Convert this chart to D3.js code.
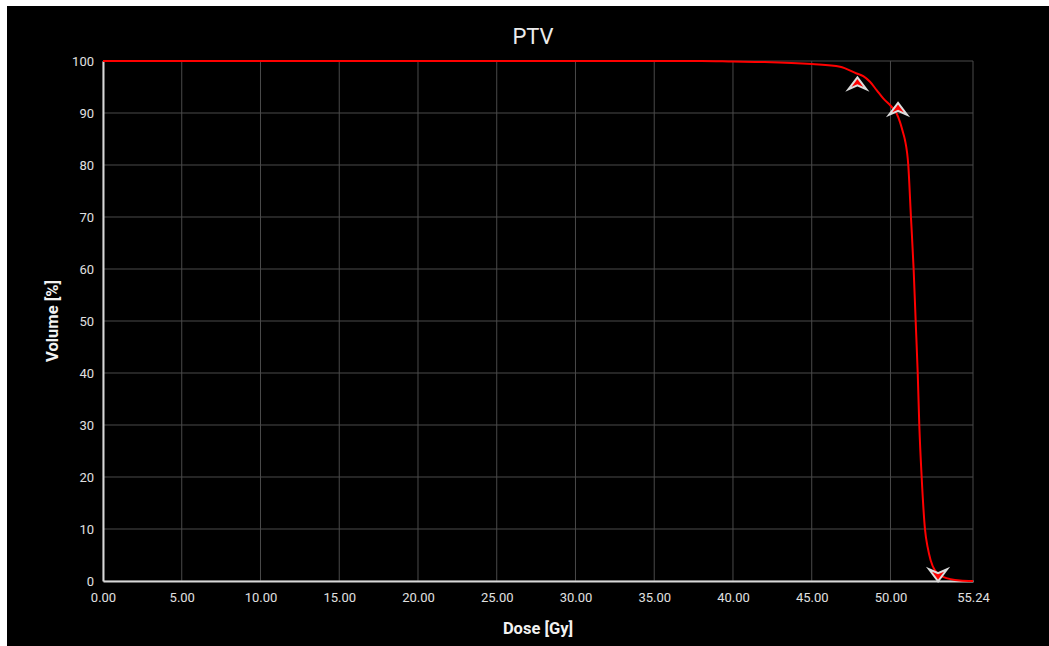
<!DOCTYPE html>
<html>
<head>
<meta charset="utf-8">
<script src="https://cdn.jsdelivr.net/npm/d3@7"></script>
<style>
	html, body { margin: 0; padding: 0; background: #fff; }
	svg { display: block; }
</style>
</head>
<body>
<svg width="1049" height="646"></svg>
<script>
var doses = [0, 38, 40, 42, 45, 46.8, 47.85, 48.27, 48.7, 49.12, 49.54, 50.07, 50.39, 50.6, 50.81, 50.92, 51.13, 51.3, 51.47, 51.6, 51.73, 51.83, 51.98, 52.19, 52.36, 52.55, 52.83, 53.33, 54.41, 55.24];
var volumes = [100, 100, 99.9, 99.8, 99.4, 98.9, 97.6, 97.1, 96.0, 94.4, 92.8, 91.2, 89.9, 88.3, 86.1, 84.8, 80, 70, 60, 50, 40, 30, 20, 10, 6.5, 4, 2, 0.8, 0.1, 0];

var xTicks = [0, 5, 10, 15, 20, 25, 30, 35, 40, 45, 50, 55.24];
var yTicks = [0, 10, 20, 30, 40, 50, 60, 70, 80, 90, 100];

// constraint markers: dose, volume, direction
var markerDoses = [47.9, 50.48, 53.02];
var markerVolumes = [95.5, 90.6, 1.3];
var markerDirs = ["up", "up", "down"];

var svg = d3.select("svg");

var margin = {left: 103, right: 76, top: 61, bottom: 65},
	width = 1049,
	height = 646;

svg.append("rect")
	.attr("x", 7)
	.attr("y", 6)
	.attr("width", width - 7)
	.attr("height", height - 6)
	.attr("fill", "#000");

var x = d3.scaleLinear()
	.domain([0, 55.24])
	.range([margin.left, width - margin.right]);

var y = d3.scaleLinear()
	.domain([0, 100])
	.range([height - margin.bottom, margin.top]);

// grid
var grid = svg.append("g").attr("id", "grid");
grid.selectAll("line.vx").data(xTicks).enter()
	.append("line")
	.attr("x1", function(d){ return x(d); })
	.attr("x2", function(d){ return x(d); })
	.attr("y1", y(0))
	.attr("y2", y(100))
	.attr("stroke", "#4a4a4a")
	.attr("stroke-width", 1);
grid.selectAll("line.hy").data(yTicks).enter()
	.append("line")
	.attr("x1", x(0))
	.attr("x2", x(55.24))
	.attr("y1", function(d){ return y(d); })
	.attr("y2", function(d){ return y(d); })
	.attr("stroke", "#4a4a4a")
	.attr("stroke-width", 1);

// axes
var xAxis = svg.append("g")
	.attr("transform", "translate(0," + y(0) + ")")
	.call(d3.axisBottom(x).tickValues(xTicks).tickSize(0).tickPadding(9)
		.tickFormat(function(d){ return d.toFixed(2); }));

var yAxis = svg.append("g")
	.attr("transform", "translate(" + x(0) + ",0)")
	.call(d3.axisLeft(y).tickValues(yTicks).tickSize(0).tickPadding(9));

[xAxis, yAxis].forEach(function(a){
	a.select(".domain").attr("stroke", "#d8d8d8").attr("stroke-width", 2);
	a.selectAll("text")
		.attr("fill", "#e0e0e0")
		.style("font-family", "Roboto, sans-serif")
		.style("font-size", "13px");
});
xAxis.selectAll("text").attr("dy", "0.9em");

// curve
var lineFunction = d3.line()
	.curve(d3.curveMonotoneX)
	.x(function(d){ return x(d[0]); })
	.y(function(d){ return y(d[1]); });

svg.append("path")
	.datum(d3.zip(doses, volumes))
	.attr("d", lineFunction)
	.attr("fill", "none")
	.attr("stroke", "#ff0000")
	.attr("stroke-width", 2);

// markers
var markers = d3.zip(markerDoses, markerVolumes, markerDirs);
svg.selectAll("path.marker").data(markers).enter()
	.append("path")
	.attr("class", "marker")
	.attr("d", "M0,-7 L9,5 L0,1 L-9,5 Z")
	.attr("transform", function(d){
		return "translate(" + x(d[0]) + "," + y(d[1]) + ")" + (d[2] == "down" ? " rotate(180)" : "");
	})
	.attr("fill", "#ff0000")
	.attr("stroke", "#dcdcdc")
	.attr("stroke-width", 2)
	.attr("stroke-linejoin", "miter");

// titles
svg.append("text")
	.attr("x", 533)
	.attr("y", 44)
	.attr("text-anchor", "middle")
	.attr("fill", "#ececec")
	.style("font-family", "Roboto, sans-serif")
	.style("font-size", "22px")
	.text("PTV");

svg.append("text")
	.attr("x", 538)
	.attr("y", 634)
	.attr("text-anchor", "middle")
	.attr("fill", "#f2f2f2")
	.style("font-family", "Roboto, sans-serif")
	.style("font-weight", "bold")
	.style("font-size", "16.5px")
	.text("Dose [Gy]");

svg.append("text")
	.attr("transform", "translate(58," + y(50) + ") rotate(-90)")
	.attr("text-anchor", "middle")
	.attr("fill", "#f2f2f2")
	.style("font-family", "Roboto, sans-serif")
	.style("font-weight", "bold")
	.style("font-size", "16.5px")
	.text("Volume [%]");
</script>
</body>
</html>
